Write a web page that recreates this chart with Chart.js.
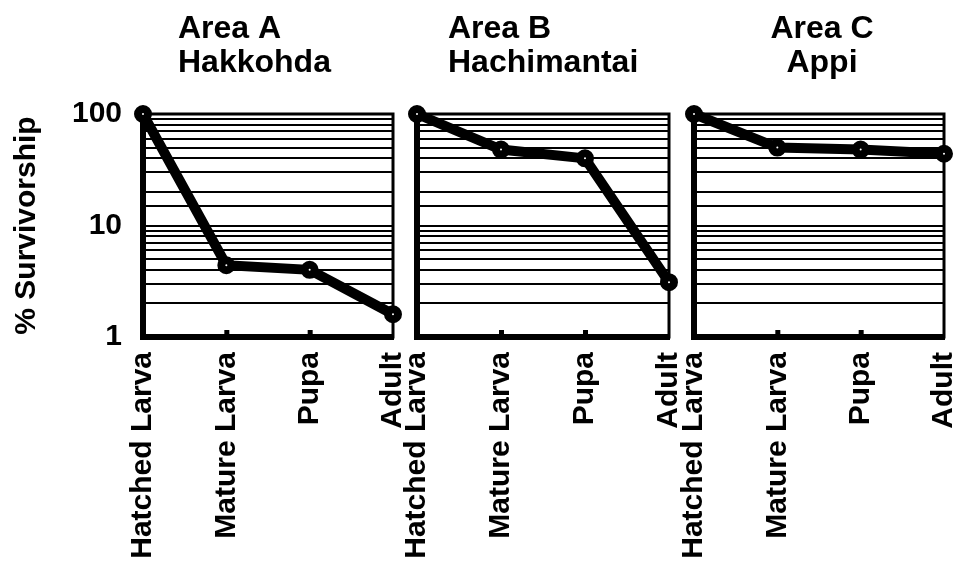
<!DOCTYPE html>
<html>
<head>
<meta charset="utf-8">
<script src="https://cdn.jsdelivr.net/npm/chart.js@4.4.1/dist/chart.umd.min.js"></script>
<style>
  body { margin: 0; background: #fff; }
  #wrap { position: relative; width: 959px; height: 569px; overflow: hidden; }
  canvas { position: absolute; top: 0; }
</style>
</head>
<body>
<div id="wrap">
  <canvas id="cA" width="410" height="569" style="left:0px"></canvas>
  <canvas id="cB" width="285" height="569" style="left:400px"></canvas>
  <canvas id="cC" width="284" height="569" style="left:675px"></canvas>
</div>
<script>
const stages = ['Hatched Larva', 'Mature Larva', 'Pupa', 'Adult'];
const areaA = [100, 4.4, 4.0, 1.6];
const areaB = [100, 48, 40, 3.1];
const areaC = [100, 50, 48, 44];
const titleA = ['Area A', 'Hakkohda'];
const titleB = ['Area B', 'Hachimantai'];
const titleC = ['Area C', 'Appi'];
const yLabels = [1, 10, 100];
const yTitle = '% Survivorship';

const FONT = '"Liberation Sans", Arial, Helvetica, sans-serif';

// frame on top/right of plot area
const frame = {
  id: 'frame',
  beforeDatasetsDraw(chart) {
    const { ctx, chartArea: a } = chart;
    ctx.save();
    ctx.strokeStyle = '#000';
    ctx.lineWidth = 3;
    ctx.strokeRect(a.left, a.top, a.right - a.left, a.bottom - a.top);
    ctx.restore();
  }
};

// small tick marks pointing up into the plot at inner categories
const innerTicks = {
  id: 'innerTicks',
  afterDraw(chart) {
    const { ctx, chartArea: a } = chart;
    const x = chart.scales.x;
    ctx.save();
    ctx.fillStyle = '#000';
    for (let i = 1; i < stages.length - 1; i++) {
      const px = x.getPixelForValue(i);
      ctx.fillRect(px - 2, a.bottom - 7, 5, 7);
    }
    ctx.restore();
  }
};

// two-line panel heading
const heading = {
  id: 'heading',
  afterDraw(chart, args, opts) {
    const { ctx, chartArea: a } = chart;
    ctx.save();
    ctx.fillStyle = '#000';
    ctx.font = 'bold 32px ' + FONT;
    ctx.textAlign = opts.align;
    ctx.textBaseline = 'alphabetic';
    opts.lines.forEach((t, i) => ctx.fillText(t, a.left + opts.dx, 38 + i * 34));
    ctx.restore();
  }
};

function makePanel(id, values, title, axisWidth, padRight, titleDx, titleAlign, showY) {
  new Chart(document.getElementById(id), {
    type: 'line',
    data: {
      labels: stages,
      datasets: [{
        data: values,
        borderColor: '#000',
        borderWidth: 10,
        pointRadius: 5,
        pointBorderWidth: 8,
        pointBorderColor: '#000',
        pointBackgroundColor: '#fff',
        tension: 0,
        clip: false
      }]
    },
    options: {
      responsive: false,
      animation: false,
      layout: { padding: { top: 114, right: padRight, left: 0, bottom: 0 } },
      plugins: {
        legend: { display: false },
        tooltip: { enabled: false },
        heading: { lines: title, dx: titleDx, align: titleAlign }
      },
      scales: {
        x: {
          type: 'category',
          offset: false,
          grid: { display: false },
          border: { display: true, color: '#000', width: 6 },
          ticks: {
            autoSkip: false,
            maxRotation: 90,
            minRotation: 90,
            padding: 7,
            color: '#000',
            font: { family: FONT, size: 30, weight: 'bold' }
          },
          afterFit(s) {
            s.height = 232;
            s.paddingLeft = 0;
            s.paddingRight = 0;
          }
        },
        y: {
          type: 'logarithmic',
          min: 1,
          max: 100,
          grid: { color: '#000', lineWidth: 2, drawTicks: false },
          border: { display: true, color: '#000', width: 6 },
          ticks: {
            display: showY,
            autoSkip: false,
            padding: 21,
            color: '#000',
            font: { family: FONT, size: 30, weight: 'bold' },
            callback: v => yLabels.includes(v) ? String(v) : ''
          },
          title: {
            display: showY,
            text: yTitle,
            color: '#000',
            padding: { top: 9, bottom: 0 },
            font: { family: FONT, size: 30, weight: 'bold' }
          },
          afterFit(s) {
            s.width = axisWidth;
            s.paddingTop = 0;
            s.paddingBottom = 0;
          }
        }
      }
    },
    plugins: [frame, innerTicks, heading]
  });
}

makePanel('cA', areaA, titleA, 143, 17, 35, 'left', true);
makePanel('cB', areaB, titleB, 17, 16, 31, 'left', false);
makePanel('cC', areaC, titleC, 19, 15, 128, 'center', false);
</script>
</body>
</html>
